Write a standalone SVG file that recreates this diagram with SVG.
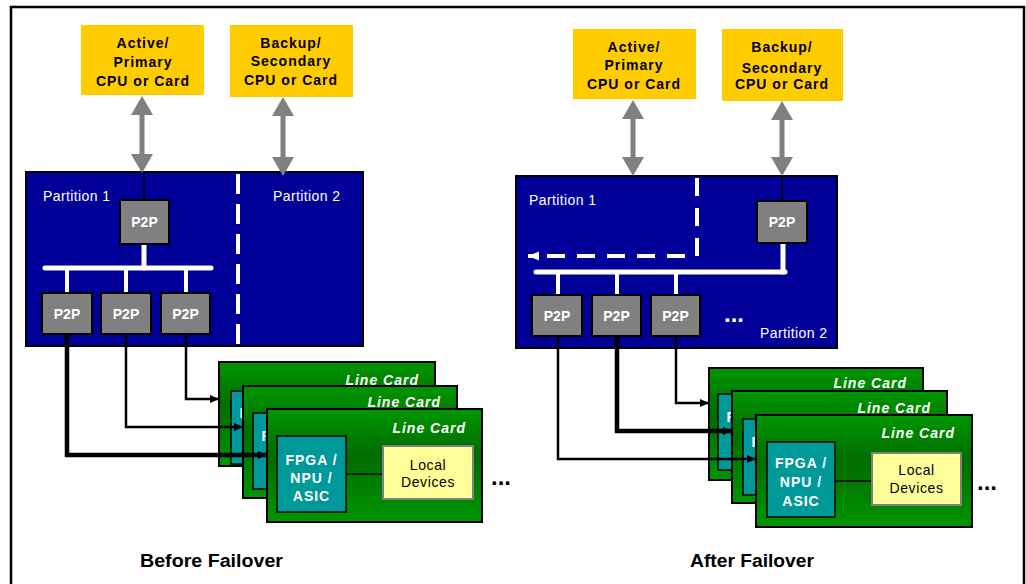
<svg xmlns="http://www.w3.org/2000/svg" width="1026" height="584" viewBox="0 0 1026 584">
<defs>
<linearGradient id="cardGrad" x1="0" y1="0" x2="0" y2="1">
<stop offset="0" stop-color="#009600"/>
<stop offset="0.42" stop-color="#006c00"/>
<stop offset="1" stop-color="#009600"/>
</linearGradient>
<marker id="ah" markerUnits="userSpaceOnUse" markerWidth="10" markerHeight="10" refX="9" refY="5" orient="auto">
<path d="M0,1 L9,5 L0,9 Z" fill="#000"/>
</marker>
<marker id="wh" markerUnits="userSpaceOnUse" markerWidth="12" markerHeight="10" refX="11" refY="5" orient="auto">
<path d="M0,0.5 L11,5 L0,9.5 Z" fill="#fff"/>
</marker>
<style>
.frame{fill:none;stroke:#000;stroke-width:2.5}
.cpu{fill:#FFCC00}
.cpuT{font-family:"Liberation Sans",Arial,sans-serif;font-weight:bold;font-size:14px;letter-spacing:1px;fill:#000;text-anchor:middle}
.dbl{fill:#808080}
.panel{fill:#000099;stroke:#000;stroke-width:2}
.part{font-family:"Liberation Sans",Arial,sans-serif;font-size:14px;letter-spacing:0.4px;fill:#fff}
.p2p{fill:#808080;stroke:#000;stroke-width:2}
.p2pT{font-family:"Liberation Sans",Arial,sans-serif;font-weight:bold;font-size:14px;fill:#fff;text-anchor:middle}
.bus{stroke:#fff;stroke-width:5;fill:none;stroke-linecap:round}
.drop{stroke:#fff;stroke-width:4;fill:none}
.dash{stroke:#fff;stroke-width:4;fill:none}
.thin{stroke:#000;stroke-width:1.5;fill:none}
.card{fill:url(#cardGrad);stroke:#000;stroke-width:2}
.lcT{font-family:"Liberation Sans",Arial,sans-serif;font-weight:bold;font-style:italic;font-size:14px;letter-spacing:1px;fill:#fff;text-anchor:end}
.fpga{fill:#009999;stroke:#000;stroke-width:1.5}
.fpgaT{font-family:"Liberation Sans",Arial,sans-serif;font-weight:bold;font-size:14px;letter-spacing:1px;fill:#fff;text-anchor:middle}
.loc{fill:#FFFF99;stroke:#808080;stroke-width:2}
.locT{font-family:"Liberation Sans",Arial,sans-serif;font-size:14px;letter-spacing:0.6px;fill:#000;text-anchor:middle}
.link{stroke:#000;stroke-width:1.5}
.conn{fill:none;stroke:#000;stroke-width:2.5;marker-end:url(#ah)}
.connB{fill:none;stroke:#000;stroke-width:4.5;marker-end:url(#ah)}
.dots{font-family:"Liberation Sans",Arial,sans-serif;font-weight:bold;font-size:24px;letter-spacing:0px}
.cap{font-family:"Liberation Sans",Arial,sans-serif;font-weight:bold;font-size:18px;fill:#000}
</style>
</defs>
<rect x="0" y="0" width="1026" height="584" fill="#fff"/>
<rect class="frame" x="11" y="7" width="1013" height="600"/>

<!-- LEFT: Before Failover -->
<g id="L-active">
<rect class="cpu" x="81" y="25" width="123" height="70"/>
<text class="cpuT" x="143" y="48">Active/</text>
<text class="cpuT" x="143" y="67">Primary</text>
<text class="cpuT" x="143" y="86">CPU or Card</text>
</g>
<g id="L-backup">
<rect class="cpu" x="230" y="25" width="123" height="72"/>
<text class="cpuT" x="291" y="48">Backup/</text>
<text class="cpuT" x="291" y="66">Secondary</text>
<text class="cpuT" x="291" y="85">CPU or Card</text>
</g>
<g id="L-panel">
<rect class="panel" x="26" y="172" width="337" height="174"/>
<text class="part" x="43" y="201">Partition 1</text>
<text class="part" x="273" y="201">Partition 2</text>
<line class="dash" x1="238" y1="174" x2="238" y2="346" stroke-dasharray="20 10"/>
<line class="bus" x1="144" y1="244" x2="144" y2="268"/>
<line class="bus" x1="45" y1="268" x2="211" y2="268"/>
<line class="drop" x1="67" y1="268" x2="67" y2="293"/>
<line class="drop" x1="126" y1="268" x2="126" y2="293"/>
<line class="drop" x1="186" y1="268" x2="186" y2="293"/>
</g>
<g id="L-p2p-top"><rect class="p2p" x="120" y="200" width="49" height="44"/><text class="p2pT" x="144.5" y="227">P2P</text></g>
<g id="L-p2p-1"><rect class="p2p" x="42" y="293" width="50" height="41"/><text class="p2pT" x="67" y="319">P2P</text></g>
<g id="L-p2p-2"><rect class="p2p" x="101" y="293" width="50" height="41"/><text class="p2pT" x="126" y="319">P2P</text></g>
<g id="L-p2p-3"><rect class="p2p" x="161" y="293" width="49" height="41"/><text class="p2pT" x="185.5" y="319">P2P</text></g>

<g id="L-card1" transform="translate(219,362)">
<rect class="card" x="0" y="0" width="216" height="104"/>
<text class="lcT" x="200" y="23">Line Card</text>
<rect class="fpga" x="12" y="29" width="69" height="73"/>
<text class="fpgaT" x="46.5" y="56">FPGA /</text>
</g>
<g id="L-card2" transform="translate(243,386)">
<rect class="card" x="0" y="0" width="214" height="112"/>
<text class="lcT" x="198" y="21">Line Card</text>
<rect class="fpga" x="10" y="27" width="69" height="76"/>
<text class="fpgaT" x="44.5" y="55">FPGA /</text>
</g>
<g id="L-card3" transform="translate(267,409)">
<rect class="card" x="0" y="0" width="215" height="113"/>
<text class="lcT" x="199" y="24">Line Card</text>
<line class="link" x1="79" y1="65" x2="116" y2="65"/>
<rect class="fpga" x="10" y="27" width="69" height="76"/>
<text class="fpgaT" x="44.5" y="56">FPGA /</text>
<text class="fpgaT" x="44.5" y="74">NPU /</text>
<text class="fpgaT" x="44.5" y="92">ASIC</text>
<rect class="loc" x="116" y="37" width="90" height="53"/>
<text class="locT" x="161" y="61">Local</text>
<text class="locT" x="161" y="78">Devices</text>
</g>
<text class="dots" x="491" y="485">...</text>

<!-- RIGHT: After Failover -->
<g id="R-active">
<rect class="cpu" x="573" y="29" width="123" height="70"/>
<text class="cpuT" x="634" y="52">Active/</text>
<text class="cpuT" x="634" y="70">Primary</text>
<text class="cpuT" x="634" y="89">CPU or Card</text>
</g>
<g id="R-backup">
<rect class="cpu" x="722" y="29" width="121" height="72"/>
<text class="cpuT" x="782" y="52">Backup/</text>
<text class="cpuT" x="782" y="73">Secondary</text>
<text class="cpuT" x="782" y="89">CPU or Card</text>
</g>
<g id="R-panel">
<rect class="panel" x="516" y="176" width="321" height="172"/>
<text class="part" x="529" y="205">Partition 1</text>
<text class="part" x="760" y="338">Partition 2</text>
<path class="dash" d="M697,178 V256 H528" stroke-dasharray="18 12" marker-end="url(#wh)"/>
<line class="bus" x1="783" y1="243" x2="783" y2="272"/>
<line class="bus" x1="536" y1="272" x2="785" y2="272"/>
<line class="drop" x1="558" y1="272" x2="558" y2="295"/>
<line class="drop" x1="617" y1="272" x2="617" y2="295"/>
<line class="drop" x1="676" y1="272" x2="676" y2="295"/>
<text class="dots" x="724" y="322" fill="#fff" letter-spacing="2">...</text>
</g>
<g id="R-p2p-top"><rect class="p2p" x="757" y="201" width="50" height="42"/><text class="p2pT" x="782" y="227">P2P</text></g>
<g id="R-p2p-1"><rect class="p2p" x="532" y="295" width="50" height="41"/><text class="p2pT" x="557" y="321">P2P</text></g>
<g id="R-p2p-2"><rect class="p2p" x="592" y="295" width="49" height="41"/><text class="p2pT" x="616.5" y="321">P2P</text></g>
<g id="R-p2p-3"><rect class="p2p" x="651" y="295" width="49" height="41"/><text class="p2pT" x="675.5" y="321">P2P</text></g>

<g id="R-card1" transform="translate(709,368)">
<rect class="card" x="0" y="0" width="214" height="112"/>
<text class="lcT" x="198" y="20">Line Card</text>
<rect class="fpga" x="9" y="26" width="69" height="76"/>
<text class="fpgaT" x="43.5" y="54">FPGA /</text>
</g>
<g id="R-card2" transform="translate(732,391)">
<rect class="card" x="0" y="0" width="215" height="112"/>
<text class="lcT" x="199" y="22">Line Card</text>
<rect class="fpga" x="11" y="28" width="69" height="76"/>
<text class="fpgaT" x="45.5" y="56">FPGA /</text>
</g>
<g id="R-card3" transform="translate(756,415)">
<rect class="card" x="0" y="0" width="216" height="112"/>
<text class="lcT" x="199" y="23">Line Card</text>
<line class="link" x1="79" y1="66" x2="116" y2="66"/>
<rect class="fpga" x="11" y="27" width="68" height="75"/>
<text class="fpgaT" x="45" y="53">FPGA /</text>
<text class="fpgaT" x="45" y="72">NPU /</text>
<text class="fpgaT" x="45" y="91">ASIC</text>
<rect class="loc" x="116" y="38" width="89" height="52"/>
<text class="locT" x="160.5" y="60">Local</text>
<text class="locT" x="160.5" y="78">Devices</text>
</g>
<text class="dots" x="977" y="490">...</text>

<!-- Connectors -->
<g id="connectors">
<polygon class="dbl" points="142,96 153,115 144.5,115 144.5,154 153,154 142,173 131,154 139.5,154 139.5,115 131,115"/>
<polygon class="dbl" points="283,97 294,116 285.5,116 285.5,157 294,157 283,176 272,157 280.5,157 280.5,116 272,116"/>
<polygon class="dbl" points="633,100 644,119 635.5,119 635.5,157 644,157 633,176 622,157 630.5,157 630.5,119 622,119"/>
<polygon class="dbl" points="782,101 793,120 784.5,120 784.5,157 793,157 782,176 771,157 779.5,157 779.5,120 771,120"/>
<line class="thin" x1="144" y1="173" x2="144" y2="200"/>
<line class="thin" x1="782" y1="176" x2="782" y2="201"/>
<path class="conn" d="M186,334 V399 H219"/>
<path class="conn" d="M126,334 V427 H243"/>
<path class="connB" d="M67,334 V455 H267"/>
<path class="conn" d="M676,336 V403 H709"/>
<path class="connB" d="M617,336 V431 H732"/>
<path class="conn" d="M558,336 V459 H756"/>
</g>

<text class="cap" x="140" y="567" textLength="143" lengthAdjust="spacingAndGlyphs">Before Failover</text>
<text class="cap" x="690" y="567" textLength="124" lengthAdjust="spacingAndGlyphs">After Failover</text>
</svg>
